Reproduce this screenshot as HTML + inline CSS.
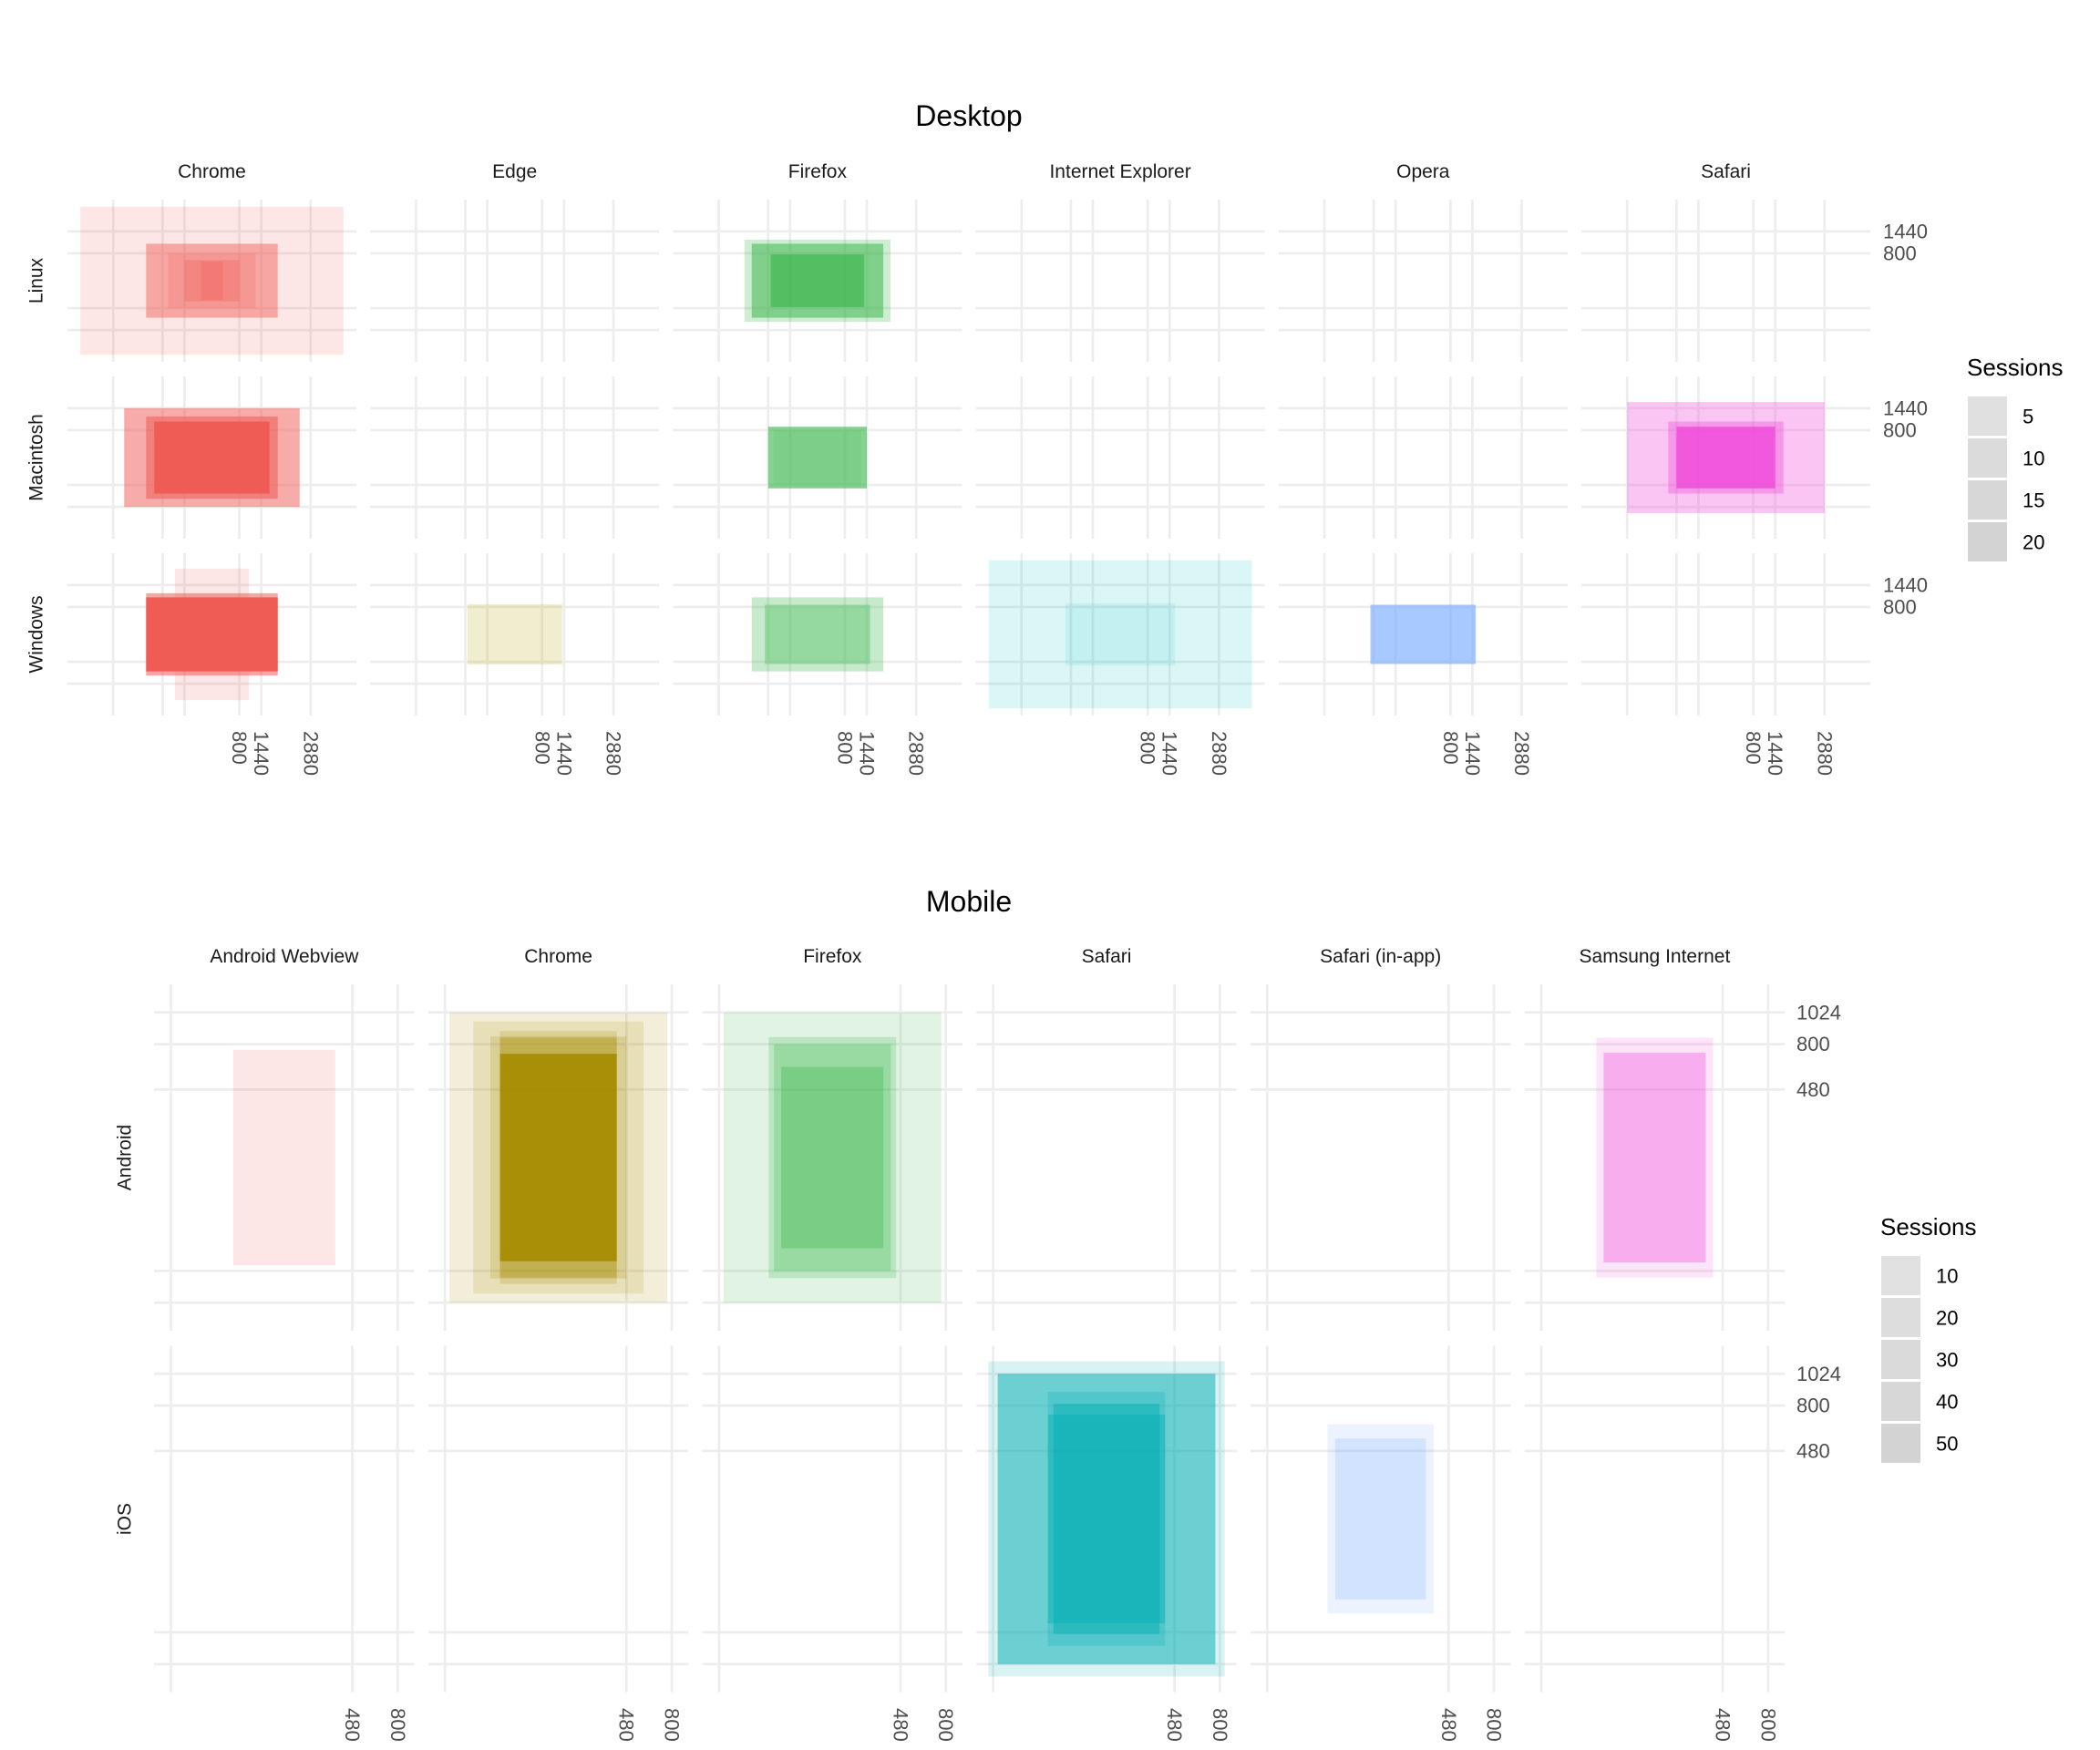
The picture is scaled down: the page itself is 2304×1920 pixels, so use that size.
<!DOCTYPE html>
<html><head><meta charset="utf-8"><style>
html,body{margin:0;padding:0;background:#fff;}
svg{display:block;font-family:"Liberation Sans",sans-serif;}
</style></head><body>
<svg id="chart" width="2304" height="1920" viewBox="0 0 2304 1920" xmlns="http://www.w3.org/2000/svg">
<rect width="2304" height="1920" fill="#fff"/>
<g id="gridL"></g><g id="marks"></g><g id="labels"></g>
</svg>
<script>
// ---- Desktop data ----
const dBrowsers = ["Chrome","Edge","Firefox","Internet Explorer","Opera","Safari"];
const dOS = ["Linux","Macintosh","Windows"];
const dBrowser = ["Chrome","Chrome","Chrome","Chrome","Chrome","Chrome","Chrome","Chrome","Chrome","Chrome","Chrome","Edge","Firefox","Firefox","Firefox","Firefox","Firefox","Firefox","Firefox","Internet Explorer","Internet Explorer","Opera","Safari","Safari","Safari"];
const dPlat = ["Linux","Linux","Linux","Linux","Linux","Macintosh","Macintosh","Macintosh","Windows","Windows","Windows","Windows","Linux","Linux","Linux","Macintosh","Macintosh","Windows","Windows","Windows","Windows","Windows","Macintosh","Macintosh","Macintosh"];
const dWidth = [3840,1920,1280,800,320,2560,1920,1680,1080,1920,1920,1380,2133,1920,1366,1440,1280,1920,1536,3840,1600,1536,2880,1680,1440];
const dHeight = [2160,1080,800,600,568,1440,1200,1050,1920,1200,1080,880,1200,1080,768,900,800,1080,864,2160,900,864,1620,1050,900];
const dSessions = [2,9,3,5,5,10,11,21,2,11,21,3,4,10,12,12,1,5,6,2,1,11,6,7,17];
const dXTicks = [-2880,-1440,-800,800,1440,2880];
const dXLabels = ["","","","800","1440","2880"];
const dYTicks = [1440,800,-800,-1440];
const dYLabels = ["1440","800","",""];
const dLegend = [5,10,15,20];
// ---- Mobile data ----
const mBrowsers = ["Android Webview","Chrome","Firefox","Safari","Safari (in-app)","Samsung Internet"];
const mOS = ["Android","iOS"];
const mBrowser = ["Android Webview","Chrome","Chrome","Chrome","Chrome","Chrome","Chrome","Firefox","Firefox","Firefox","Firefox","Safari","Safari","Safari","Safari","Safari","Safari (in-app)","Safari (in-app)","Samsung Internet","Samsung Internet"];
const mPlat = ["Android","Android","Android","Android","Android","Android","Android","Android","Android","Android","Android","iOS","iOS","iOS","iOS","iOS","iOS","iOS","Android","Android"];
const mWidth = [360,768,600,480,412,412,412,768,450,412,360,834,768,414,375,414,375,320,412,360];
const mHeight = [760,1024,960,854,892,846,732,1024,850,800,640,1112,1024,896,812,736,667,568,846,740];
const mSessions = [4,4,4,7,7,13,49,4,8,10,14,4,25,10,22,19,2,6,4,16];
const mXTicks = [-800,480,800];
const mXLabels = ["","480","800"];
const mYTicks = [1024,800,480,-800,-1024];
const mYLabels = ["1024","800","480","",""];
const mLegend = [10,20,30,40,50];

const colors = {"Chrome":"#EF5B55","Edge":"#B79F00","Firefox":"#34B446","Internet Explorer":"#00BFC4","Opera":"#619CFF","Safari":"#EF4AD9"};
const mColors = {"Android Webview":"#EF5B55","Chrome":"#A68B00","Firefox":"#34B446","Safari":"#00ADB2","Safari (in-app)":"#619CFF","Samsung Internet":"#EF4AD9"};
const NS="http://www.w3.org/2000/svg";
const gG=document.getElementById('gridL'), gM=document.getElementById('marks'), gL=document.getElementById('labels');
function el(tag,attrs,parent,txt){const e=document.createElementNS(NS,tag);for(const k in attrs)e.setAttribute(k,attrs[k]);if(txt!==undefined)e.textContent=txt;parent.appendChild(e);return e;}

function facet(cfg){
  const {browsers,oses,br,pl,W,H,S,xt,xl,yt,yl,col,left,step,pw,top,rstep,ph,k,smin,smax,xlabY,ylabX,rowLabX,title,titleY,leg,legX,legY,legGrays,sec}=cfg;
  const alpha=s=>0.1+0.9*(s-smin)/(smax-smin);
  const t=el('text',{x:1063,y:titleY,'font-size':32,'text-anchor':'middle',fill:'#000'},gL,title);
  
  
  browsers.forEach((b,i)=>{
    const cx=left+pw/2+step*i;
    const s=el('text',{x:cx,y:top-24,'font-size':21,'text-anchor':'middle',fill:'#1A1A1A'},gL,b);
    
    
    oses.forEach((o,j)=>{
      const cy=top+ph/2+rstep*j;
      const x0=left+step*i, y0=top+rstep*j;
      xt.forEach(v=>{const l=el('line',{x1:cx+v*k,x2:cx+v*k,y1:y0,y2:y0+ph,stroke:'#EDEDED','stroke-width':2.7},gG);
        
        });
      yt.forEach(v=>{const l=el('line',{x1:x0,x2:x0+pw,y1:cy-v*k,y2:cy-v*k,stroke:'#EDEDED','stroke-width':2.7},gG);
        
        });
    });
  });
  oses.forEach((o,j)=>{
    const cy=top+ph/2+rstep*j;
    const r=el('text',{x:rowLabX,y:cy,'font-size':21,'text-anchor':'middle','dominant-baseline':'central',fill:'#1A1A1A',transform:`rotate(-90 ${rowLabX} ${cy})`},gL,o);
    
    
    yt.forEach((v,n)=>{if(!yl[n])return;
      const t=el('text',{x:ylabX,y:cy-v*k,'font-size':22,'dominant-baseline':'central',fill:'#4D4D4D'},gL,yl[n]);
      
      });
  });
  browsers.forEach((b,i)=>{
    const cx=left+pw/2+step*i;
    xt.forEach((v,n)=>{if(!xl[n])return;const x=cx+v*k;
      const t=el('text',{x:x,y:xlabY,'font-size':22,'dominant-baseline':'central',fill:'#4D4D4D',transform:`rotate(90 ${x} ${xlabY})`},gL,xl[n]);
      
      });
  });
  const idx=br.map((_,n)=>n).sort((a,b)=>W[b]*H[b]-W[a]*H[a]);
  idx.forEach(n=>{
    const i=browsers.indexOf(br[n]), j=oses.indexOf(pl[n]);
    const cx=left+pw/2+step*i, cy=top+ph/2+rstep*j;
    const r=el('rect',{x:cx-W[n]*k,y:cy-H[n]*k,width:2*W[n]*k,height:2*H[n]*k,fill:col[br[n]],'fill-opacity':alpha(S[n]).toFixed(3)},gM);
    
    
  });
  const lt=el('text',{x:legX,y:legY-23,'font-size':26,fill:'#000'},gL,'Sessions');
  
  
  leg.forEach((v,n)=>{
    const y=legY+46*n;
    const r=el('rect',{x:legX+1,y:y,width:43,height:43,fill:legGrays[n]},gL);
    
    
    const t=el('text',{x:legX+61,y:y+22,'font-size':22,'dominant-baseline':'central',fill:'#000'},gL,String(v));
    
    
  });
}
facet({sec:'desktop',browsers:dBrowsers,oses:dOS,br:dBrowser,pl:dPlat,W:dWidth,H:dHeight,S:dSessions,xt:dXTicks,xl:dXLabels,yt:dYTicks,yl:dYLabels,col:colors,
  left:74,step:332.2,pw:317,top:219,rstep:194,ph:178,k:0.0376,smin:1,smax:21,xlabY:802,ylabX:2066,rowLabX:40,title:'Desktop',titleY:138,
  leg:dLegend,legX:2158,legY:435,legGrays:['#E0E0E0','#DBDBDB','#D7D7D7','#D3D3D3']});
facet({sec:'mobile',browsers:mBrowsers,oses:mOS,br:mBrowser,pl:mPlat,W:mWidth,H:mHeight,S:mSessions,xt:mXTicks,xl:mXLabels,yt:mYTicks,yl:mYLabels,col:mColors,
  left:169.2,step:300.7,pw:285.4,top:1080,rstep:396.5,ph:380,k:0.1555,smin:1,smax:55,xlabY:1874,ylabX:1971,rowLabX:137,title:'Mobile',titleY:1000,
  leg:mLegend,legX:2063,legY:1378,legGrays:['#E1E1E1','#DDDDDD','#DADADA','#D7D7D7','#D3D3D3']});
</script>
</body></html>
